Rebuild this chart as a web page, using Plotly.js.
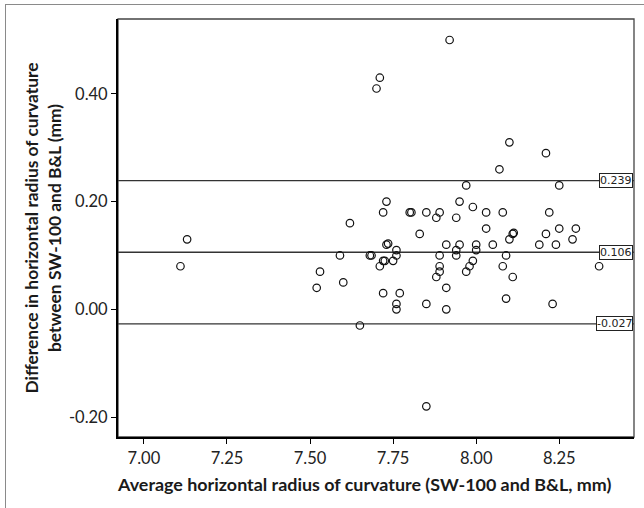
<!DOCTYPE html>
<html>
<head>
<meta charset="utf-8">
<script src="https://cdn.plot.ly/plotly-3.0.1.min.js"></script>
<style>
  html, body { margin: 0; padding: 0; background: #fff; }
  #wrap { position: relative; width: 644px; height: 508px; }
  #chart { width: 644px; height: 508px; }
  #frame { position: absolute; left: 5px; top: 4px; right: -10px; bottom: -10px;
           border-left: 1.5px solid #8a8a8a; border-top: 1.5px solid #8a8a8a; pointer-events: none; }
</style>
</head>
<body>
<div id="wrap">
  <div id="chart"></div>
  <div id="frame"></div>
</div>
<script>
// Average horizontal radius of curvature (mm)
const avgRadius = [
  7.11, 7.13, 7.52, 7.53, 7.59, 7.60, 7.62, 7.65, 7.68, 7.685,
  7.70, 7.71, 7.71, 7.72, 7.725, 7.72, 7.72, 7.73, 7.73, 7.735,
  7.75, 7.76, 7.76, 7.76, 7.76, 7.77, 7.80, 7.805, 7.83, 7.85,
  7.85, 7.85, 7.88, 7.88, 7.89, 7.89, 7.89, 7.89, 7.91, 7.91,
  7.91, 7.92, 7.94, 7.94, 7.94, 7.95, 7.95, 7.97, 7.97, 7.98,
  7.99, 7.99, 8.00, 8.00, 8.03, 8.03, 8.05, 8.07, 8.08, 8.08,
  8.09, 8.09, 8.10, 8.10, 8.11, 8.113, 8.11, 8.19, 8.21, 8.21,
  8.22, 8.23, 8.24, 8.25, 8.25, 8.29, 8.30, 8.37
];
// Difference SW-100 minus B&L (mm)
const diffRadius = [
  0.08, 0.13, 0.04, 0.07, 0.10, 0.05, 0.16, -0.03, 0.10, 0.10,
  0.41, 0.43, 0.08, 0.09, 0.09, 0.18, 0.03, 0.20, 0.12, 0.122,
  0.09, 0.11, 0.10, 0.01, 0.00, 0.03, 0.18, 0.18, 0.14, 0.18,
  0.01, -0.18, 0.17, 0.06, 0.18, 0.10, 0.08, 0.07, 0.12, 0.04,
  0.00, 0.50, 0.17, 0.11, 0.10, 0.20, 0.12, 0.23, 0.07, 0.08,
  0.19, 0.09, 0.12, 0.11, 0.18, 0.15, 0.12, 0.26, 0.18, 0.08,
  0.10, 0.02, 0.31, 0.13, 0.14, 0.142, 0.06, 0.12, 0.29, 0.14,
  0.18, 0.01, 0.12, 0.23, 0.15, 0.13, 0.15, 0.08
];
// Upper limit of agreement, mean difference, lower limit of agreement
const limitValues = [0.239, 0.106, -0.027];
const limitLabels = ["0.239", "0.106", "-0.027"];
const xTickValues = [7.00, 7.25, 7.50, 7.75, 8.00, 8.25];
const xTickLabels = ["7.00", "7.25", "7.50", "7.75", "8.00", "8.25"];
const yTickValues = [-0.20, 0.00, 0.20, 0.40];
const yTickLabels = ["-0.20", "0.00", "0.20", "0.40"];
const xTitle = 'Average horizontal radius of curvature (SW-100 and B&L, mm)';
const yTitle = 'Difference in horizontal radius of curvature<br>between SW-100 and B&L (mm)';

const trace = {
  x: avgRadius, y: diffRadius, type: 'scatter', mode: 'markers',
  marker: { symbol: 'circle-open', size: 7.5, color: '#111', line: { width: 1.2, color: '#111' } },
  hoverinfo: 'x+y', cliponaxis: false
};

const shapes = limitValues.map(v => ({
  type: 'line', xref: 'paper', x0: 0, x1: 1, yref: 'y', y0: v, y1: v,
  line: { color: '#333', width: 1.3 }, layer: 'below'
}));
shapes.push({ type: 'rect', xref: 'paper', yref: 'paper', x0: 0, x1: 1, y0: 0, y1: 1,
  line: { color: '#444', width: 1.3 }, layer: 'below' });

const annotations = limitValues.map((v, i) => ({
  xref: 'paper', x: 0.998, xanchor: 'right', yref: 'y', y: v, yanchor: 'middle',
  text: limitLabels[i], showarrow: false,
  font: { family: 'DejaVu Sans, sans-serif', size: 11, color: '#222' },
  bgcolor: '#fff', bordercolor: '#222', borderwidth: 1, borderpad: 0
}));
annotations.push({
  xref: 'paper', x: 0.4777, xanchor: 'center', yref: 'paper', y: -0.1124, yanchor: 'middle',
  text: xTitle, showarrow: false,
  font: { family: 'Lato, sans-serif', size: 17.9, color: '#1a1a1a', weight: 'bold' }
});

const layout = {
  width: 644, height: 508,
  margin: { l: 118, r: 10, t: 19, b: 71 },
  paper_bgcolor: '#fff', plot_bgcolor: '#fff',
  font: { family: 'Lato, sans-serif', color: '#1a1a1a', size: 17 },
  showlegend: false,
  xaxis: {
    range: [6.922, 8.475], showgrid: false, zeroline: false,
    showline: true, linecolor: '#000', linewidth: 2,
    ticks: 'outside', ticklen: 5, tickwidth: 1, tickcolor: '#000',
    tickvals: xTickValues, ticktext: xTickLabels,
    tickfont: { size: 16.5, color: '#222' },
    automargin: false
  },
  yaxis: {
    range: [-0.237, 0.539], showgrid: false, zeroline: false,
    showline: true, linecolor: '#000', linewidth: 2,
    ticks: 'outside', ticklen: 5, tickwidth: 1, tickcolor: '#000',
    tickvals: yTickValues, ticktext: yTickLabels,
    tickfont: { size: 16.5, color: '#222' },
    title: { text: yTitle,
             font: { size: 17.4, color: '#1a1a1a', weight: 'bold' }, standoff: 3 },
    automargin: false
  },
  shapes: shapes,
  annotations: annotations
};

Plotly.newPlot('chart', [trace], layout, { displayModeBar: false, staticPlot: true });
</script>
</body>
</html>
